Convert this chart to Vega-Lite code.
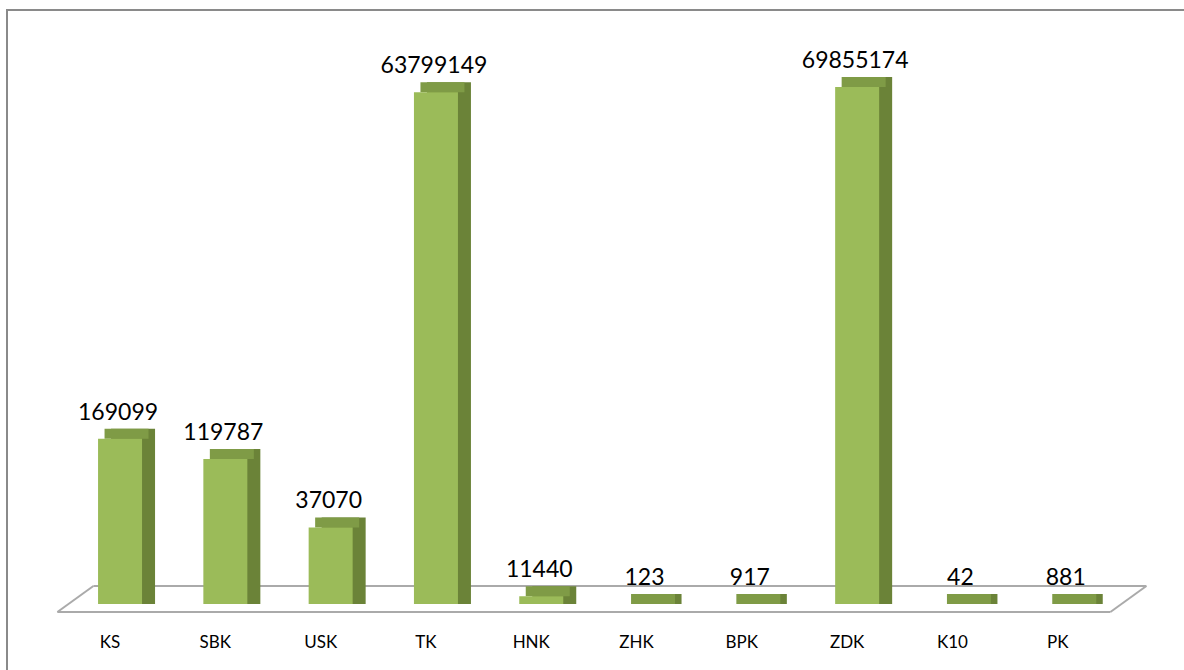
{
  "$schema": "https://vega.github.io/schema/vega-lite/v6.json",
  "width": 1190,
  "height": 670,
  "autosize": {"type": "none"},
  "padding": {"left": 7, "top": 10, "right": -13, "bottom": -10},
  "background": "white",
  "config": {"view": {"stroke": "#8a8a8a", "strokeWidth": 2}},
  "data": {"values": [
    {"category": "KS", "value": 169099},
    {"category": "SBK", "value": 119787},
    {"category": "USK", "value": 37070},
    {"category": "TK", "value": 63799149},
    {"category": "HNK", "value": 11440},
    {"category": "ZHK", "value": 123},
    {"category": "BPK", "value": 917},
    {"category": "ZDK", "value": 69855174},
    {"category": "K10", "value": 42},
    {"category": "PK", "value": 881}
  ]},
  "encoding": {
    "x": {
      "field": "category", "type": "nominal", "sort": null, "title": null,
      "scale": {"domain": ["KS", "SBK", "USK", "TK", "HNK", "ZHK", "BPK", "ZDK", "K10", "PK"], "range": [50.4, 1103.4], "paddingInner": 0, "paddingOuter": 0},
      "axis": {"labelFont": "Lato", "labelFontSize": 17, "labelColor": "black", "ticks": false, "domain": false, "grid": false, "labelPadding": 0, "labelBaseline": "middle", "offset": -38, "labelAngle": 0}
    }
  },
  "layer": [
    {
      "data": {"values": [{}]},
      "mark": {"type": "rule", "stroke": "#aaaaaa", "strokeWidth": 2, "yOffset": 8},
      "encoding": {
        "x": {"datum": "KS", "bandPosition": 0},
        "x2": {"datum": "PK", "bandPosition": 1},
        "y": {"datum": 10000, "type": "quantitative", "scale": {"type": "log", "domain": [10000, 100000000], "range": [594, 56], "clamp": true}, "axis": null}
      }
    },
    {
      "data": {"values": [{}]},
      "mark": {"type": "rule", "stroke": "#aaaaaa", "strokeWidth": 2, "yOffset": -18, "xOffset": 36, "x2Offset": 36},
      "encoding": {
        "x": {"datum": "KS", "bandPosition": 0},
        "x2": {"datum": "PK", "bandPosition": 1},
        "y": {"datum": 10000, "type": "quantitative"}
      }
    },
    {
      "data": {"values": [{}]},
      "mark": {"type": "rule", "stroke": "#aaaaaa", "strokeWidth": 2, "yOffset": 8, "y2Offset": -18, "x2Offset": 36},
      "encoding": {
        "x": {"datum": "KS", "bandPosition": 0},
        "x2": {"datum": "KS", "bandPosition": 0},
        "y": {"datum": 10000, "type": "quantitative"},
        "y2": {"datum": 10000}
      }
    },
    {
      "data": {"values": [{}]},
      "mark": {"type": "rule", "stroke": "#aaaaaa", "strokeWidth": 2, "yOffset": 8, "y2Offset": -18, "x2Offset": 36},
      "encoding": {
        "x": {"datum": "PK", "bandPosition": 1},
        "x2": {"datum": "PK", "bandPosition": 1},
        "y": {"datum": 10000, "type": "quantitative"},
        "y2": {"datum": 10000}
      }
    },
    {
      "mark": {"type": "bar", "width": 44, "xOffset": 23, "yOffset": -10, "color": "#6b8338"},
      "encoding": {
        "y": {"field": "value", "type": "quantitative"},
        "y2": {"datum": 10000}
      }
    },
    {
      "mark": {"type": "tick", "orient": "horizontal", "size": 44, "thickness": 10, "xOffset": 16.5, "yOffset": -5, "color": "#7f9b46", "opacity": 1},
      "encoding": {
        "y": {"field": "value", "type": "quantitative"}
      }
    },
    {
      "mark": {"type": "bar", "width": 44, "xOffset": 10, "color": "#9bbb59"},
      "encoding": {
        "y": {"field": "value", "type": "quantitative"},
        "y2": {"datum": 10000}
      }
    },
    {
      "mark": {"type": "text", "font": "Lato", "fontSize": 23, "color": "black", "baseline": "middle", "align": "center", "dy": -26, "xOffset": 8},
      "encoding": {
        "y": {"field": "value", "type": "quantitative"},
        "text": {"field": "value", "type": "quantitative", "format": "d"}
      }
    }
  ]
}
